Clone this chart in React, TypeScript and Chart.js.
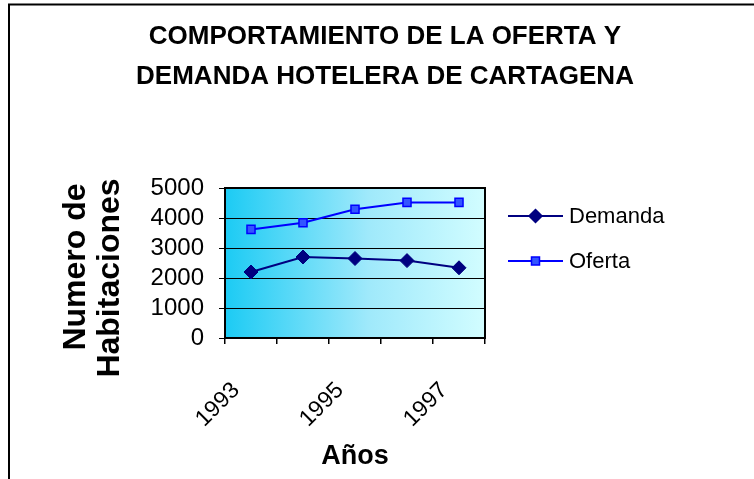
import { useEffect, useRef } from 'react';
import { Chart, registerables } from 'chart.js';

Chart.register(...registerables);

const titleLines = ['COMPORTAMIENTO DE LA OFERTA Y', 'DEMANDA HOTELERA DE CARTAGENA'];
const years = ['1993', '1994', '1995', '1996', '1997'];
const shownYears = ['1993', '1995', '1997'];
const demanda = [2200, 2700, 2650, 2580, 2340];
const oferta = [3620, 3840, 4290, 4520, 4520];
const seriesNames = ['Demanda', 'Oferta'];
const yTitle = ['Numero de', 'Habitaciones'];
const xTitle = 'Años';
const yMin = 0;
const yMax = 5000;
const yStep = 1000;

const FONT = '"Liberation Sans", Arial, Helvetica, sans-serif';

const drawMarker = (ctx: CanvasRenderingContext2D, style: string, x: number, y: number, fill: string, stroke: string) => {
  ctx.save();
  ctx.fillStyle = fill;
  ctx.strokeStyle = stroke;
  ctx.lineWidth = 1.5;
  ctx.beginPath();
  if (style === 'rectRot') {
    const r = 6.5;
    ctx.moveTo(x, y - r);
    ctx.lineTo(x + r, y);
    ctx.lineTo(x, y + r);
    ctx.lineTo(x - r, y);
    ctx.closePath();
  } else {
    const s = 4;
    ctx.rect(x - s, y - s, 2 * s, 2 * s);
  }
  ctx.fill();
  ctx.stroke();
  ctx.restore();
};

const decorPlugin = {
  id: 'decor',
  beforeDraw(chart: any) {
    const { ctx, chartArea: a, width, height } = chart;
    ctx.save();
    ctx.fillStyle = '#ffffff';
    ctx.fillRect(0, 0, width, height);
    const g = ctx.createLinearGradient(a.left, 0, a.right, 0);
    g.addColorStop(0, '#1ccbf4');
    g.addColorStop(0.55, '#9fe9fb');
    g.addColorStop(1, '#d2fdff');
    ctx.fillStyle = g;
    ctx.fillRect(a.left, a.top, a.right - a.left, a.bottom - a.top);
    ctx.restore();
  },
  beforeDatasetsDraw(chart: any) {
    const { ctx, chartArea: a } = chart;
    ctx.save();
    ctx.strokeStyle = '#000000';
    ctx.lineWidth = 2;
    ctx.strokeRect(a.left, a.top, a.right - a.left, a.bottom - a.top);
    ctx.restore();
  },
  afterDraw(chart: any) {
    const { ctx, width, height } = chart;
    ctx.save();
    // outer frame (left and top edges visible)
    ctx.strokeStyle = '#000000';
    ctx.lineWidth = 2;
    ctx.beginPath();
    ctx.moveTo(9, height);
    ctx.lineTo(9, 4.5);
    ctx.lineTo(width, 4.5);
    ctx.stroke();
    // title
    ctx.fillStyle = '#000000';
    ctx.font = `bold 26px ${FONT}`;
    ctx.textAlign = 'center';
    ctx.textBaseline = 'middle';
    titleLines.forEach((t, i) => ctx.fillText(t, 385, 37 + i * 40));
    // y axis title (two rotated lines)
    ctx.font = `bold 32px ${FONT}`;
    const yTitlePos = [
      [76, 267],
      [110, 278],
    ];
    yTitle.forEach((t, i) => {
      ctx.save();
      ctx.translate(yTitlePos[i][0], yTitlePos[i][1]);
      ctx.rotate(-Math.PI / 2);
      ctx.fillText(t, 0, 0);
      ctx.restore();
    });
    // legend
    const ds = chart.data.datasets;
    ctx.font = `22px ${FONT}`;
    ctx.textAlign = 'left';
    ds.forEach((d: any, i: number) => {
      const y = 216 + i * 45;
      ctx.strokeStyle = d.borderColor;
      ctx.lineWidth = 2;
      ctx.beginPath();
      ctx.moveTo(508, y);
      ctx.lineTo(563, y);
      ctx.stroke();
      drawMarker(ctx, d.pointStyle, 535.5, y, d.pointBackgroundColor, d.pointBorderColor);
      ctx.fillStyle = '#000000';
      ctx.fillText(d.label, 569, y + 1);
    });
    ctx.restore();
  },
};

export default function App() {
  const ref = useRef<HTMLCanvasElement | null>(null);

  useEffect(() => {
    if (!ref.current) return;
    const chart = new Chart(ref.current, {
      type: 'line',
      data: {
        labels: years,
        datasets: [
          {
            label: seriesNames[0],
            data: demanda,
            borderColor: '#000080',
            backgroundColor: '#000080',
            pointBackgroundColor: '#000080',
            pointBorderColor: '#000080',
            borderWidth: 2,
            pointStyle: 'rectRot',
            pointRadius: 7,
            pointBorderWidth: 1,
            tension: 0,
          },
          {
            label: seriesNames[1],
            data: oferta,
            borderColor: '#0000ff',
            backgroundColor: '#3355ff',
            pointBackgroundColor: '#3355ff',
            pointBorderColor: '#0000ff',
            borderWidth: 2,
            pointStyle: 'rect',
            pointRadius: 5.7,
            pointBorderWidth: 1.5,
            tension: 0,
          },
        ],
      },
      options: {
        animation: false,
        responsive: false,
        devicePixelRatio: 1,
        layout: { padding: { top: 188, right: 269, left: 0, bottom: 0 } },
        plugins: {
          legend: { display: false },
          title: { display: false },
          tooltip: { enabled: false },
        },
        scales: {
          x: {
            type: 'category',
            offset: true,
            grid: {
              offset: true,
              drawOnChartArea: false,
              drawTicks: true,
              tickLength: 6,
              color: '#000000',
              lineWidth: 1.5,
            },
            border: { display: true, color: '#000000', width: 2 },
            ticks: {
              autoSkip: false,
              minRotation: 45,
              maxRotation: 45,
              padding: 33,
              labelOffset: -15,
              color: '#000000',
              font: { family: FONT, size: 23 },
              callback: function (this: any, value: any) {
                const lbl = this.getLabelForValue(value);
                return shownYears.includes(lbl) ? lbl : '';
              },
            },
            title: {
              display: true,
              text: xTitle,
              color: '#000000',
              font: { family: FONT, size: 27, weight: 'bold', lineHeight: 1.2 },
              padding: { top: 0, bottom: 6 },
            },
            afterFit: (scale: any) => {
              scale.height = 141;
            },
          },
          y: {
            min: yMin,
            max: yMax,
            grid: {
              color: '#000000',
              lineWidth: 1,
              drawTicks: true,
              tickLength: 6,
            },
            border: { display: true, color: '#000000', width: 2 },
            ticks: {
              stepSize: yStep,
              autoSkip: false,
              padding: 15,
              color: '#000000',
              font: { family: FONT, size: 24 },
              callback: (value: any) => String(value),
            },
            title: { display: false },
            afterFit: (scale: any) => {
              scale.width = 225;
            },
          },
        },
      },
      plugins: [decorPlugin],
    });
    return () => chart.destroy();
  }, []);

  return (
    <div style={{ position: 'absolute', left: 0, top: 0, width: 754, height: 479 }}>
      <canvas ref={ref} width={754} height={479} />
    </div>
  );
}
